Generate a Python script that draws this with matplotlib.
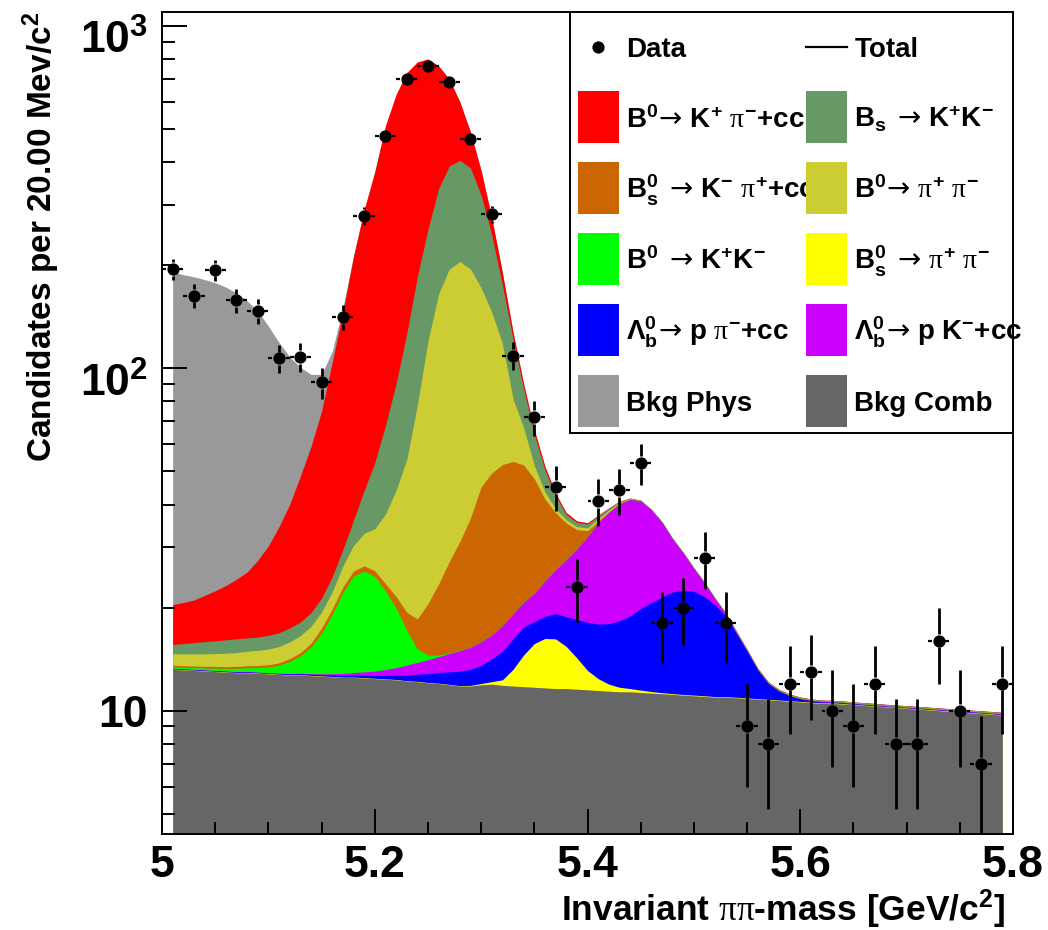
import numpy as np
import matplotlib
matplotlib.use("Agg")
import matplotlib.pyplot as plt
from matplotlib.lines import Line2D
from matplotlib.patches import Patch, Rectangle
from matplotlib.legend_handler import HandlerPatch, HandlerLine2D
from matplotlib.transforms import ScaledTranslation
from matplotlib.ticker import LogLocator, MultipleLocator, FuncFormatter, NullFormatter

# data: 20 MeV/c^2 bins, fit components sampled every 10 MeV/c^2
bin_width = 0.02
bin_centres = np.round(np.arange(5.01, 5.80, bin_width), 2)
mass_grid = np.round(np.arange(5.01, 5.795, 0.01), 2)

counts = np.array([195, 163, 194, 158, 147, 107, 108, 91, 141, 279,
                   477, 700, 764, 687, 468, 282, 109, 72, 45, 23,
                   41, 44, 53, 18, 20, 28, 18, 9, 8, 12,
                   13, 10, 9, 12, 8, 8, 16, 10, 7, 12])

# fit components, listed from the bottom of the stack upwards
bkg_comb = [13.2, 13.15, 13.1, 13.05, 13.0, 12.95, 12.9, 12.9, 12.85, 12.8,
            12.75, 12.7, 12.7, 12.65, 12.6, 12.55, 12.5, 12.5, 12.45, 12.4,
            12.35, 12.3, 12.2, 12.15, 12.05, 12.0, 11.9, 11.8, 11.8, 11.9,
            11.95, 11.85, 11.8, 11.75, 11.7, 11.65, 11.6, 11.6, 11.55, 11.5,
            11.45, 11.4, 11.35, 11.35, 11.3, 11.25, 11.2, 11.15, 11.1, 11.05,
            11.0, 10.95, 10.95, 10.9, 10.85, 10.8, 10.75, 10.7, 10.65, 10.6,
            10.55, 10.5, 10.5, 10.45, 10.4, 10.35, 10.3, 10.25, 10.2, 10.15,
            10.1, 10.05, 10.0, 9.95, 9.9, 9.85, 9.8, 9.75, 9.7]
bs_pipi = [0.03, 0.03, 0.03, 0.03, 0.03, 0.03, 0.03, 0.03, 0.03, 0.03,
           0.03, 0.03, 0.03, 0.03, 0.03, 0.03, 0.03, 0.03, 0.03, 0.03,
           0.03, 0.03, 0.03, 0.03, 0.03, 0.03, 0.03, 0.03, 0.05, 0.1,
           0.2, 0.45, 1.4, 2.8, 4.0, 4.6, 4.6, 3.8, 2.7, 1.6,
           0.95, 0.55, 0.35, 0.25, 0.18, 0.12, 0.08, 0.06, 0.05, 0.05,
           0.05, 0.04, 0.04, 0.04, 0.04, 0.04, 0.04, 0.04, 0.04, 0.04,
           0.04, 0.04, 0.04, 0.04, 0.03, 0.03, 0.03, 0.03, 0.03, 0.03,
           0.03, 0.03, 0.03, 0.03, 0.03, 0.03, 0.03, 0.03, 0.03]
lb_ppi = [0.05, 0.05, 0.05, 0.05, 0.05, 0.05, 0.05, 0.05, 0.05, 0.05,
          0.06, 0.07, 0.08, 0.09, 0.1, 0.12, 0.14, 0.17, 0.2, 0.24,
          0.3, 0.37, 0.45, 0.6, 0.75, 0.9, 1.05, 1.2, 1.35, 1.55,
          2.0, 2.6, 3.0, 3.0, 2.5, 2.6, 3.0, 3.4, 4.2, 5.0,
          5.5, 6.0, 6.6, 7.3, 8.4, 9.3, 10.2, 11.0, 11.3, 11.2,
          10.45, 9.35, 7.9, 5.85, 4.0, 2.3, 1.2, 0.65, 0.35, 0.18,
          0.1, 0.07, 0.05, 0.05, 0.04, 0.04, 0.04, 0.03, 0.03, 0.03,
          0.03, 0.03, 0.03, 0.03, 0.03, 0.03, 0.03, 0.03, 0.03]
lb_pk = [0.02, 0.02, 0.02, 0.02, 0.02, 0.02, 0.03, 0.03, 0.03, 0.03,
         0.03, 0.03, 0.04, 0.05, 0.08, 0.12, 0.17, 0.22, 0.3, 0.38,
         0.5, 0.65, 0.9, 1.05, 1.25, 1.45, 1.7, 1.95, 2.1, 2.35,
         2.5, 2.8, 3.0, 3.2, 3.8, 5.1, 6.6, 8.8, 11.2, 14.1,
         17.5, 20.0, 21.9, 22.5, 21.1, 17.9, 14.0, 9.5, 6.4, 3.7,
         2.1, 0.85, 0.3, 0.15, 0.1, 0.05, 0.04, 0.04, 0.03, 0.03,
         0.03, 0.03, 0.03, 0.03, 0.03, 0.03, 0.03, 0.03, 0.03, 0.03,
         0.03, 0.03, 0.03, 0.03, 0.03, 0.03, 0.03, 0.03, 0.03]
b0_kk = [0.12, 0.13, 0.15, 0.17, 0.2, 0.23, 0.28, 0.33, 0.4, 0.5,
         0.7, 1.1, 1.6, 2.5, 4.0, 6.3, 9.3, 11.8, 12.6, 11.6,
         9.2, 6.6, 3.6, 1.3, 0.45, 0.15, 0.06, 0.04, 0.03, 0.03,
         0.03, 0.03, 0.03, 0.03, 0.03, 0.03, 0.03, 0.03, 0.03, 0.03,
         0.02, 0.02, 0.02, 0.02, 0.02, 0.02, 0.02, 0.02, 0.02, 0.02,
         0.02, 0.02, 0.02, 0.02, 0.02, 0.02, 0.02, 0.02, 0.02, 0.02,
         0.02, 0.02, 0.02, 0.02, 0.02, 0.02, 0.02, 0.02, 0.02, 0.02,
         0.02, 0.02, 0.02, 0.02, 0.02, 0.02, 0.02, 0.02, 0.02]
bs_kpi = [0.15, 0.15, 0.15, 0.15, 0.16, 0.16, 0.17, 0.18, 0.19, 0.2,
          0.22, 0.25, 0.3, 0.4, 0.6, 0.7, 0.8, 0.85, 0.9, 0.95,
          1.1, 1.6, 2.2, 3.4, 6.0, 8.9, 12.5, 16.2, 21.2, 29.1,
          32.8, 34.6, 34.2, 31.4, 25.5, 17.5, 12.0, 7.7, 4.1, 1.3,
          0.35, 0.15, 0.1, 0.07, 0.05, 0.04, 0.04, 0.03, 0.03, 0.03,
          0.03, 0.03, 0.03, 0.03, 0.03, 0.03, 0.03, 0.03, 0.03, 0.03,
          0.02, 0.02, 0.02, 0.02, 0.02, 0.02, 0.02, 0.02, 0.02, 0.02,
          0.02, 0.02, 0.02, 0.02, 0.02, 0.02, 0.02, 0.02, 0.02]
b0_pipi = [1.1, 1.12, 1.15, 1.18, 1.22, 1.27, 1.32, 1.38, 1.45, 1.52,
           1.6, 1.7, 1.8, 1.9, 2.0, 2.4, 3.5, 4.8, 6.5, 8.4,
           14.0, 22.5, 34.6, 59.5, 99.5, 141.6, 167.8, 173.8, 158.5, 127.0,
           96.5, 65.7, 28.0, 14.8, 4.5, 2.0, 1.1, 0.8, 0.7, 0.65,
           0.55, 0.4, 0.25, 0.12, 0.06, 0.04, 0.03, 0.03, 0.03, 0.03,
           0.02, 0.02, 0.02, 0.02, 0.02, 0.02, 0.02, 0.02, 0.02, 0.02,
           0.02, 0.02, 0.02, 0.02, 0.02, 0.02, 0.02, 0.02, 0.02, 0.02,
           0.02, 0.02, 0.02, 0.02, 0.02, 0.02, 0.02, 0.02, 0.02]
bs_kk = [0.93, 1.05, 1.15, 1.25, 1.32, 1.39, 1.43, 1.4, 1.4, 1.47,
         1.5, 1.55, 1.6, 1.7, 1.9, 2.4, 3.1, 5.6, 11.0, 19.0,
         30.5, 46.0, 72.0, 107.0, 135.0, 170.0, 195.0, 200.0, 190.0, 148.0,
         99.0, 57.0, 40.0, 20.0, 12.0, 7.0, 3.5, 1.3, 1.0, 0.9,
         0.7, 0.45, 0.25, 0.12, 0.06, 0.04, 0.03, 0.03, 0.03, 0.03,
         0.02, 0.02, 0.02, 0.02, 0.02, 0.02, 0.02, 0.02, 0.02, 0.02,
         0.02, 0.02, 0.02, 0.02, 0.02, 0.02, 0.02, 0.02, 0.02, 0.02,
         0.02, 0.02, 0.02, 0.02, 0.02, 0.02, 0.02, 0.02, 0.02]
b0_kpi = [4.8, 5.0, 5.25, 5.8, 6.4, 7.1, 8.0, 9.1, 11.1, 13.7,
          17.6, 22.6, 30.2, 39.7, 53.7, 79.4, 116.5, 176.0, 246.0, 322.0,
          442.0, 540.0, 604.0, 600.0, 546.0, 430.0, 310.0, 195.0, 105.0, 58.0,
          30.0, 15.0, 6.0, 3.0, 2.0, 1.2, 0.7, 0.45, 0.35, 0.3,
          0.2, 0.12, 0.08, 0.05, 0.03, 0.03, 0.03, 0.03, 0.03, 0.03,
          0.02, 0.02, 0.02, 0.02, 0.02, 0.02, 0.02, 0.02, 0.02, 0.02,
          0.02, 0.02, 0.02, 0.02, 0.02, 0.02, 0.02, 0.02, 0.02, 0.02,
          0.02, 0.02, 0.02, 0.02, 0.02, 0.02, 0.02, 0.02, 0.02]
bkg_phys = [171.0, 167.0, 164.0, 160.0, 155.5, 149.5, 142.0, 132.0, 119.5, 102.5,
            84.5, 68.0, 52.5, 37.0, 21.0, 8.0, 4.0, 1.5, 0.5, 0.2,
            0.0, 0.0, 0.0, 0.0, 0.0, 0.0, 0.0, 0.0, 0.0, 0.0,
            0.0, 0.0, 0.0, 0.0, 0.0, 0.0, 0.0, 0.0, 0.0, 0.0,
            0.0, 0.0, 0.0, 0.0, 0.0, 0.0, 0.0, 0.0, 0.0, 0.0,
            0.0, 0.0, 0.0, 0.0, 0.0, 0.0, 0.0, 0.0, 0.0, 0.0,
            0.0, 0.0, 0.0, 0.0, 0.0, 0.0, 0.0, 0.0, 0.0, 0.0,
            0.0, 0.0, 0.0, 0.0, 0.0, 0.0, 0.0, 0.0, 0.0]

# thin arrow taken from DejaVu Sans through the \mathcal slot
arrow = r'\mathcal{\rightarrow}\,'
labels = {
    'b0_kpi': r'$B^{0}\!' + arrow + r'K^{+}\ \mathit{\pi}^{-}{+}cc$',
    'bs_kk': r'$B_{s}\ ' + arrow + r'K^{+}K^{-}$',
    'bs_kpi': r'$B_{s}^{0}\ ' + arrow + r'K^{-}\ \mathit{\pi}^{+}{+}cc$',
    'b0_pipi': r'$B^{0}\!' + arrow + r'\mathit{\pi}^{+}\ \mathit{\pi}^{-}$',
    'b0_kk': r'$B^{0}\ ' + arrow + r'K^{+}K^{-}$',
    'bs_pipi': r'$B_{s}^{0}\ ' + arrow + r'\mathit{\pi}^{+}\ \mathit{\pi}^{-}$',
    'lb_ppi': r'$\mathit{\Lambda}_{b}^{0}\!' + arrow + r'p\ \mathit{\pi}^{-}{+}cc$',
    'lb_pk': r'$\mathit{\Lambda}_{b}^{0}\!' + arrow + r'p\ K^{-}{+}cc$',
    'bkg_phys': 'Bkg Phys',
    'bkg_comb': 'Bkg Comb',
}
colours = {
    'bkg_comb': '#666666', 'bs_pipi': '#ffff00', 'lb_ppi': '#0000ff',
    'lb_pk': '#cc00ff', 'b0_kk': '#00ff00', 'bs_kpi': '#cc6600',
    'b0_pipi': '#cccc33', 'bs_kk': '#669966', 'b0_kpi': '#ff0000',
    'bkg_phys': '#999999',
}
stack = [('bkg_comb', bkg_comb), ('bs_pipi', bs_pipi), ('lb_ppi', lb_ppi),
         ('lb_pk', lb_pk), ('b0_kk', b0_kk), ('bs_kpi', bs_kpi),
         ('b0_pipi', b0_pipi), ('bs_kk', bs_kk), ('b0_kpi', b0_kpi),
         ('bkg_phys', bkg_phys)]

plt.rcParams['font.family'] = ['Liberation Sans', 'DejaVu Sans']
plt.rcParams['font.weight'] = 'bold'
plt.rcParams['axes.labelweight'] = 'bold'
plt.rcParams['mathtext.fontset'] = 'custom'
plt.rcParams['mathtext.rm'] = 'Liberation Sans:bold'
plt.rcParams['mathtext.bf'] = 'Liberation Sans:bold'
plt.rcParams['mathtext.sf'] = 'Liberation Sans:bold'
plt.rcParams['mathtext.it'] = 'Liberation Serif:weight=normal:style=normal'
plt.rcParams['mathtext.cal'] = 'DejaVu Sans:weight=normal:style=normal'
plt.rcParams['mathtext.default'] = 'rm'

fig = plt.figure(figsize=(10.48, 9.30), dpi=100)
ax = fig.add_axes([0.1546, 0.1032, 0.812, 0.8839])
ax.set_yscale('log')
y_min, y_max = 4.36, 1099
ax.set_xlim(5.0, 5.8)
ax.set_ylim(y_min, y_max)

# paint the cumulative sums from the top layer down so no seams show
tops = np.cumsum([np.asarray(v, dtype=float) for _, v in stack], axis=0)
for (name, _), top in reversed(list(zip(stack, tops))):
    ax.fill_between(mass_grid, y_min, top, color=colours[name], lw=0, zorder=1)

# data points with sqrt(N) errors, bars stop short of the marker
err = np.sqrt(counts)
x_gap = 0.0063
y_gap = 1.046
half = bin_width / 2
ax.hlines(counts, bin_centres - half, bin_centres - x_gap, color='k', lw=1.6, zorder=3)
ax.hlines(counts, bin_centres + x_gap, bin_centres + half, color='k', lw=1.6, zorder=3)
up_lo, up_hi = counts * y_gap, counts + err
m = up_hi > up_lo
ax.vlines(bin_centres[m], up_lo[m], up_hi[m], color='k', lw=2.0, zorder=3)
dn_lo, dn_hi = counts - err, counts / y_gap
m = dn_lo < dn_hi
ax.vlines(bin_centres[m], np.maximum(dn_lo[m], y_min), dn_hi[m], color='k', lw=2.0, zorder=3)
ax.plot(bin_centres, counts, 'o', color='k', ms=7.8, zorder=4)

# axes styling
ax.xaxis.set_major_locator(MultipleLocator(0.2))
ax.xaxis.set_minor_locator(MultipleLocator(0.05))
ax.xaxis.set_major_formatter(FuncFormatter(lambda v, p: f'{v:g}'))
ax.yaxis.set_major_locator(LogLocator(base=10))
ax.yaxis.set_minor_locator(LogLocator(base=10, subs=range(2, 10)))
ax.yaxis.set_minor_formatter(NullFormatter())
ax.yaxis.set_major_formatter(FuncFormatter(
    lambda v, p: '10' if round(np.log10(v)) == 1 else r'$10^{%d}$' % round(np.log10(v))))
ax.tick_params(which='both', direction='in', width=1.4, top=False, right=False)
ax.tick_params(which='major', length=18, labelsize=32)
ax.tick_params(which='minor', length=9)
ax.tick_params(axis='x', pad=8)
ax.tick_params(axis='y', pad=10)
for s in ax.spines.values():
    s.set_linewidth(1.4)

ax.set_xlabel(r'Invariant $\mathit{\pi\pi}$-mass [GeV/c$^{2}$]', fontsize=25.5, loc='right')
ax.xaxis.set_label_coords(0.99, -0.065)
ax.xaxis.label.set_va('top')
ax.set_ylabel(r'Candidates per 20.00 Mev/c$^{2}$', fontsize=24, loc='top')
ax.yaxis.set_label_coords(-0.118, 1.0)


# legend boxes and symbols placed to sit the text low in each row
def row_box(legend, orig_handle, xdescent, ydescent, width, height, fontsize):
    return Rectangle((-xdescent, -ydescent + 0.065 * fontsize), width, height)


class RowLine(HandlerLine2D):
    def create_artists(self, legend, orig_handle, xdescent, ydescent,
                       width, height, fontsize, trans):
        arts = super().create_artists(legend, orig_handle, xdescent, ydescent,
                                      width, height, fontsize, trans)
        for a in arts:
            a.set_ydata(np.asarray(a.get_ydata()) - 0.28 * fontsize)
        return arts


ax.add_patch(Rectangle((0.4794, 0.4878), 0.5206, 0.5122, transform=ax.transAxes,
                       fc='white', ec='black', lw=1.4, zorder=10, clip_on=False))
left = ['b0_kpi', 'bs_kpi', 'b0_kk', 'lb_ppi', 'bkg_phys']
right = ['bs_kk', 'b0_pipi', 'bs_pipi', 'lb_pk', 'bkg_comb']
data_handle = Line2D([], [], color='k', marker='o', ls='none', ms=7.8)
total_handle = Line2D([], [], color='k', lw=1.6)
leg_kw = dict(loc='upper left', frameon=False, fontsize=20, borderpad=0,
              borderaxespad=0, handlelength=1.5, handleheight=2.5,
              labelspacing=0.68, handletextpad=0.25,
              handler_map={Patch: HandlerPatch(patch_func=row_box),
                           Line2D: RowLine()})
fig.legend([data_handle] + [Patch(fc=colours[k]) for k in left],
           ['Data'] + [labels[k] for k in left],
           bbox_to_anchor=(0.5512, 0.976), **leg_kw)
fig.legend([total_handle] + [Patch(fc=colours[k]) for k in right],
           ['Total'] + [labels[k] for k in right],
           bbox_to_anchor=(0.7688, 0.976), **leg_kw)

# drop the superscripted decade labels a little, as in the usual ROOT layout
fig.canvas.draw()
for tick in ax.yaxis.get_major_ticks():
    if tick.get_loc() > 20:
        tick.label1.set_transform(tick.label1.get_transform()
                                  + ScaledTranslation(0, -8 / 72, fig.dpi_scale_trans))

fig.savefig('out.png', dpi=100)
